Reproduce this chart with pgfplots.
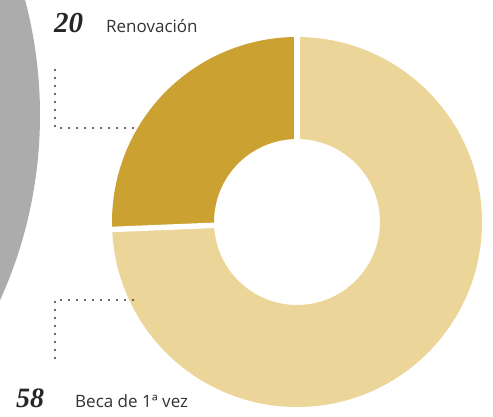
\documentclass[border=0pt]{standalone}
\usepackage{pgfplots}
\usepackage{pgfplotstable}
\pgfplotsset{compat=1.18}
\usepackage{fontspec}
\setmainfont{Open Sans}
\newfontfamily\numfont{Liberation Serif}
\definecolor{darkgold}{RGB}{203,162,50}
\definecolor{lightgold}{RGB}{235,213,152}
\definecolor{halftone}{RGB}{172,172,172}
\definecolor{dotgray}{RGB}{55,55,55}
\pgfplotstableread{
label value
Renovacion 20
Beca 58
}\datatable
\def\Rout{185}%
\def\Rin{83}%
\begin{document}%
\begin{tikzpicture}
\pgfplotstablegetelem{0}{value}\of\datatable \let\va\pgfplotsretval
\pgfplotstablegetelem{1}{value}\of\datatable \let\vb\pgfplotsretval
\pgfmathsetmacro{\tot}{\va+\vb}
\pgfmathsetmacro{\aA}{90}
\pgfmathsetmacro{\aB}{90+360*(\va/\tot)}
\pgfmathsetmacro{\aC}{\aB+360*(\vb/\tot)}
\begin{axis}[
  name=ax,
  scale only axis, width=493pt, height=416pt,
  xmin=0, xmax=493, ymin=0, ymax=416, y dir=reverse,
  hide axis, clip=true, xtick=\empty, ytick=\empty,
]
% background halftone disc on the left
\fill[halftone, overlay] (axis cs:-408,115) circle[radius=448pt];
% donut segments
\fill[darkgold] (axis cs:297,222) ++(\aA:\Rout pt) arc[start angle=\aA, end angle=\aB, radius=\Rout pt]
   -- ++(\aB+180:\Rout pt-\Rin pt) arc[start angle=\aB, end angle=\aA, radius=\Rin pt] -- cycle;
\fill[lightgold] (axis cs:297,222) ++(\aB:\Rout pt) arc[start angle=\aB, end angle=\aC, radius=\Rout pt]
   -- ++(\aC+180:\Rout pt-\Rin pt) arc[start angle=\aC, end angle=\aB, radius=\Rin pt] -- cycle;
% white separators
\draw[white, line width=5.5pt] (axis cs:297,222) ++(\aA:\Rin pt-3pt) -- ++(\aA:\Rout pt-\Rin pt+6pt);
\draw[white, line width=5.5pt] (axis cs:297,222) ++(\aB:\Rin pt-3pt) -- ++(\aB:\Rout pt-\Rin pt+6pt);
% dotted leaders
\addplot[dotgray, line width=2.2pt, line cap=round, dash pattern=on 0pt off 8pt]
  coordinates {(55,70) (55,128) (133,128)};
\addplot[dotgray, line width=2.2pt, line cap=round, dash pattern=on 0pt off 8pt]
  coordinates {(133,300) (55,300) (55,358)};
% labels
\node[anchor=base west, inner sep=0pt, text=black!85] at (axis cs:54,32)
  {\numfont\fontsize{29}{29}\selectfont\bfseries\itshape 20};
\node[anchor=base west, inner sep=0pt, text=black!80] at (axis cs:106,32)
  {\fontsize{17}{17}\selectfont Renovación};
\node[anchor=base west, inner sep=0pt, text=black!85] at (axis cs:16,407)
  {\numfont\fontsize{28}{28}\selectfont\bfseries\itshape 58};
\node[anchor=base west, inner sep=0pt, text=black!80] at (axis cs:75,407)
  {\fontsize{17}{17}\selectfont Beca de 1ª vez};
\end{axis}
\pgfresetboundingbox
\path (ax.south west) rectangle (ax.north east);
\end{tikzpicture}%
\end{document}
